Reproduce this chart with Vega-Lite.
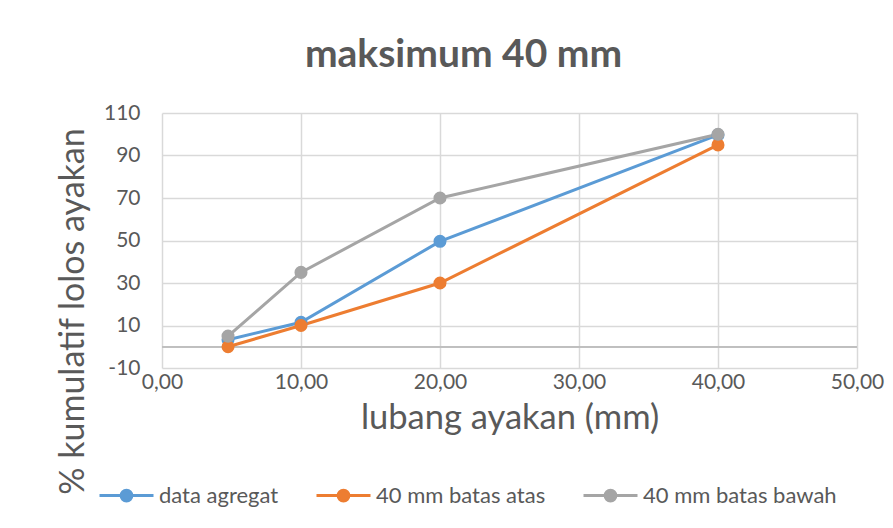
{
  "$schema": "https://vega.github.io/schema/vega-lite/v6.json",
  "width": 695,
  "height": 255,
  "autosize": {"type": "none"},
  "padding": {"left": 162, "top": 113, "right": 36, "bottom": 160},
  "background": "white",
  "config": {
    "font": "Lato",
    "view": {"stroke": null},
    "locale": {"number": {"decimal": ",", "thousands": ".", "grouping": [3], "currency": ["", ""], "minus": "-"}}
  },
  "title": {
    "text": "maksimum 40 mm",
    "fontSize": 39,
    "fontWeight": "bold",
    "color": "#595959",
    "anchor": "middle",
    "dx": -46,
    "offset": -4,
    "baseline": "alphabetic"
  },
  "data": {
    "values": [
      {"x": 4.75, "y": 3.3, "s": "data agregat"},
      {"x": 10, "y": 11.5, "s": "data agregat"},
      {"x": 20, "y": 49.6, "s": "data agregat"},
      {"x": 40, "y": 99.7, "s": "data agregat"},
      {"x": 4.75, "y": 0, "s": "40 mm batas atas"},
      {"x": 10, "y": 10, "s": "40 mm batas atas"},
      {"x": 20, "y": 30, "s": "40 mm batas atas"},
      {"x": 40, "y": 95, "s": "40 mm batas atas"},
      {"x": 4.75, "y": 5, "s": "40 mm batas bawah"},
      {"x": 10, "y": 35, "s": "40 mm batas bawah"},
      {"x": 20, "y": 70, "s": "40 mm batas bawah"},
      {"x": 40, "y": 100, "s": "40 mm batas bawah"}
    ]
  },
  "layer": [
    {
      "mark": {"type": "rule", "color": "#bfbfbf", "strokeWidth": 1.5},
      "encoding": {"y": {"datum": 0, "type": "quantitative", "scale": {"domain": [-10, 110]}}}
    },
    {
      "mark": {"type": "line", "strokeWidth": 3, "point": {"filled": true, "size": 170, "opacity": 1}},
      "encoding": {
        "x": {
          "field": "x", "type": "quantitative",
          "scale": {"domain": [0, 50], "nice": false, "zero": false},
          "axis": {
            "values": [0, 10, 20, 30, 40, 50],
            "format": ".2f",
            "title": "lubang ayakan (mm)",
            "titleFontSize": 34.5,
            "titleFontWeight": "normal",
            "titleColor": "#595959",
            "titleBaseline": "alphabetic",
            "titleY": 60,
            "labelFontSize": 21,
            "labelColor": "#595959",
            "labelPadding": 3,
            "labelFlush": false,
            "labelOverlap": false,
            "domain": false,
            "ticks": false,
            "grid": true,
            "gridColor": "#d9d9d9",
            "gridWidth": 1.5
          }
        },
        "y": {
          "field": "y", "type": "quantitative",
          "scale": {"domain": [-10, 110], "nice": false, "zero": false},
          "axis": {
            "values": [-10, 10, 30, 50, 70, 90, 110],
            "title": "% kumulatif lolos ayakan",
            "titleFontSize": 34,
            "titleFontWeight": "normal",
            "titleColor": "#595959",
            "titleBaseline": "alphabetic",
            "titleX": -79,
            "titleY": 198,
            "labelFontSize": 21,
            "labelColor": "#595959",
            "labelPadding": 22,
            "labelFlush": false,
            "domain": false,
            "ticks": false,
            "grid": true,
            "gridColor": "#d9d9d9",
            "gridWidth": 1.5
          }
        },
        "color": {
          "field": "s", "type": "nominal",
          "sort": null,
          "scale": {
            "domain": ["data agregat", "40 mm batas atas", "40 mm batas bawah"],
            "range": ["#5B9BD5", "#ED7D31", "#A5A5A5"]
          },
          "legend": {
            "title": null,
            "orient": "none",
            "direction": "horizontal",
            "legendX": -64,
            "legendY": 354,
            "symbolType": "M-1,0L1,0M-0.2,0A0.2,0.2 0 1,0 0.2,0A0.2,0.2 0 1,0 -0.2,0Z",
            "symbolSize": 2916,
            "symbolStrokeWidth": 3,
            "labelFontSize": 22,
            "labelLimit": 400,
            "labelColor": "#595959",
            "labelOffset": 4,
            "columnPadding": 31
          }
        }
      }
    }
  ]
}
